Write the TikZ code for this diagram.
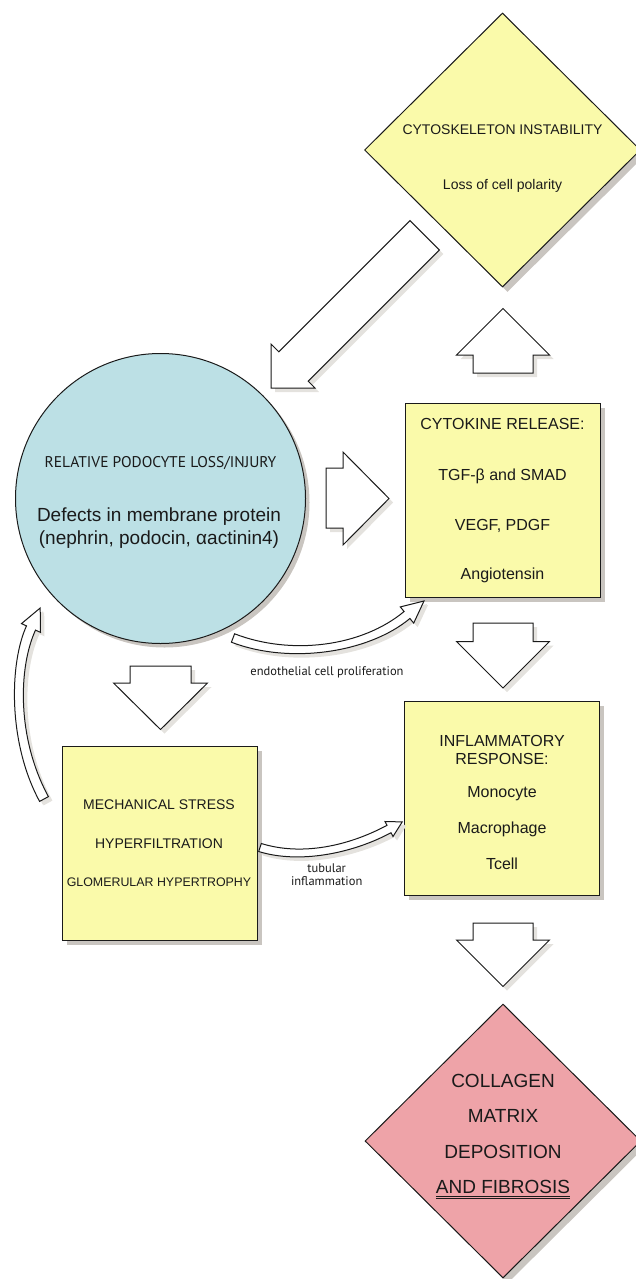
\documentclass[tikz,border=0pt]{standalone}
\usepackage{fontspec}
\setmainfont{Liberation Sans}
\newfontfamily\myriad{PT Sans}
\usetikzlibrary{shapes.geometric,shadows}
\definecolor{boxyellow}{HTML}{FAFAAA}
\definecolor{cellblue}{HTML}{BCE0E5}
\definecolor{fibpink}{HTML}{EEA3A8}
\definecolor{shadowgray}{HTML}{C9C5C0}
\definecolor{arrowshadow}{HTML}{E4E2DE}
\definecolor{inkline}{HTML}{1A1A1A}
\begin{document}
\begin{tikzpicture}[x=1pt,y=-1pt,
  shapeshadow/.style={general shadow={fill=shadowgray, shadow xshift=5pt, shadow yshift=-5pt}},
  arrshadow/.style={general shadow={fill=arrowshadow, shadow xshift=4pt, shadow yshift=-4pt}},
  box/.style={rectangle, draw=inkline, line width=1pt, fill=boxyellow, inner sep=0pt,
    minimum width=195pt, minimum height=194pt, shapeshadow},
  dia/.style={diamond, draw=inkline, line width=1pt, inner sep=0pt,
    minimum width=276pt, minimum height=274pt, shapeshadow},
  blockarrow/.style={draw=inkline, line width=1pt, fill=white, line join=miter, arrshadow},
  lbl/.style={inner sep=0pt, anchor=base, text=inkline},
  fa/.style={font=\fontsize{14}{17}\selectfont},
  fb/.style={font=\fontsize{16}{19}\selectfont},
  fc/.style={font=\fontsize{19}{23}\selectfont},
  fm/.style={font=\myriad\fontsize{15.5}{19}\selectfont},
  fs/.style={font=\myriad\fontsize{12.5}{13}\selectfont},
  ]
\useasboundingbox (0,0) rectangle (635,1279);

% ---------- main shapes ----------
\node[dia, fill=boxyellow] (cytosk) at (502.5,150) {};
\node[circle, draw=inkline, line width=1pt, fill=cellblue, minimum size=290pt, inner sep=0pt,
  general shadow={fill=shadowgray, shadow xshift=4pt, shadow yshift=-4pt}] (podo) at (160.5,498.5) {};
\node[box] (cyto) at (502.5,500) {};
\node[box] (infl) at (501.5,798) {};
\node[box] (mech) at (159.5,843) {};
\node[dia, fill=fibpink] (fib) at (503,1141) {};

% ---------- straight block arrows ----------
% diagonal arrow from cytoskeleton to podocyte
\draw[blockarrow] (410,220.7) -- (439.3,250) -- (308.15,381.15) -- (315,388) -- (271,388)
  -- (271,344) -- (278.85,351.85) -- cycle;
% right arrow podocyte -> cytokine
\draw[blockarrow] (326,468) -- (343,468) -- (343,452) -- (389,498.5) -- (343,545)
  -- (343,528) -- (326,528) -- cycle;
% up arrow cytokine -> cytoskeleton
\draw[blockarrow] (473,373) -- (473,355) -- (456.5,355) -- (503,308.5) -- (549.5,355)
  -- (533,355) -- (533,373) -- cycle;
% down arrow podocyte -> mechanical
\draw[blockarrow] (130,666) -- (191,666) -- (191,683) -- (207.5,683) -- (160.5,729.5)
  -- (113.5,683) -- (130,683) -- cycle;
% down arrow cytokine -> inflammatory
\draw[blockarrow] (473,623) -- (533,623) -- (533,641.5) -- (549.5,641.5) -- (503,688)
  -- (456.5,641.5) -- (473,641.5) -- cycle;
% down arrow inflammatory -> fibrosis
\draw[blockarrow] (473,923) -- (533,923) -- (533,940) -- (549.5,940) -- (503,986.5)
  -- (456.5,940) -- (473,940) -- cycle;

% ---------- curved arrows ----------
% mechanical -> podocyte (left, upward)
\draw[blockarrow, general shadow={fill=arrowshadow, shadow xshift=3pt, shadow yshift=-3pt}]
  (39.6,801.4) .. controls (7.6,742.4) and (9.5,662.9) .. (26.5,625.9)
  -- (21.5,623.6) -- (40.2,608) -- (40.5,632.4) -- (35.5,630.1)
  .. controls (18.5,667.1) and (16.4,737.6) .. (48.4,796.6) -- cycle;
% podocyte -> cytokine (endothelial cell proliferation)
\draw[blockarrow, general shadow={fill=arrowshadow, shadow xshift=3pt, shadow yshift=-3pt}]
  (234.6,633.8) .. controls (291.6,655.8) and (362.1,646.5) .. (404.1,611.5)
  -- (400.3,606.9) -- (424,601) -- (413.7,623.1) -- (409.9,618.5)
  .. controls (367.9,653.5) and (288.4,664.2) .. (231.4,642.2) -- cycle;
% mechanical -> inflammatory (tubular inflammation)
\draw[blockarrow, general shadow={fill=arrowshadow, shadow xshift=3pt, shadow yshift=-3pt}]
  (261.3,843.5) .. controls (301.3,856) and (348,846.3) .. (387,825.3)
  -- (385,821.5) -- (402.2,821.9) -- (393,836.5) -- (391,832.7)
  .. controls (352,853.7) and (298.7,864) .. (258.7,851.5) -- cycle;

% ---------- texts ----------
\node[lbl, fa] (cs1) at (502.5,135) {CYTOSKELETON INSTABILITY};
\node[lbl, fa] (cs2) at (502.5,189.3) {Loss of cell polarity};

\node[lbl, fm] (pd1) at (160.5,467.3) {RELATIVE PODOCYTE LOSS/INJURY};
\node[lbl, fc] (pd2) at (159,521.7) {Defects in membrane protein};
\node[lbl, fc] (pd3) at (159,544.3) {(nephrin, podocin, αactinin4)};

\node[lbl, fb] (ck1) at (502.5,429) {CYTOKINE RELEASE:};
\node[lbl, fb] (ck2) at (502.5,480) {TGF-β and SMAD};
\node[lbl, fb] (ck3) at (502.5,530) {VEGF, PDGF};
\node[lbl, fb] (ck4) at (502.5,579.3) {Angiotensin};

\node[lbl, fb] (in1) at (502,746) {INFLAMMATORY};
\node[lbl, fb] (in2) at (502,764) {RESPONSE:};
\node[lbl, fb] (in3) at (502,797.7) {Monocyte};
\node[lbl, fb] (in4) at (502,833.3) {Macrophage};
\node[lbl, fb] (in5) at (502,869) {Tcell};

\node[lbl, fa] (me1) at (159,809.3) {MECHANICAL STRESS};
\node[lbl, fa] (me2) at (159,848.3) {HYPERFILTRATION};
\node[lbl, font=\fontsize{12.4}{15}\selectfont] (me3) at (159,886.7) {GLOMERULAR HYPERTROPHY};

\node[lbl, fs] (endo) at (327,675) {endothelial cell proliferation};
\node[lbl, fs] (tub1) at (326.7,872.7) {tubular};
\node[lbl, fs] (tub2) at (326.7,885) {inflammation};

\node[lbl, fc] (fb1) at (503,1087.7) {COLLAGEN};
\node[lbl, fc] (fb2) at (503,1122.7) {MATRIX};
\node[lbl, fc] (fb3) at (503,1158.3) {DEPOSITION};
\node[lbl, fc] (fb4) at (503,1193.3) {AND FIBROSIS};
\draw[inkline, line width=0.7pt] ([yshift=-2.8pt]fb4.base west) -- ([yshift=-2.8pt]fb4.base east);
\draw[inkline, line width=0.7pt] ([yshift=-5pt]fb4.base west) -- ([yshift=-5pt]fb4.base east);
\end{tikzpicture}
\end{document}
